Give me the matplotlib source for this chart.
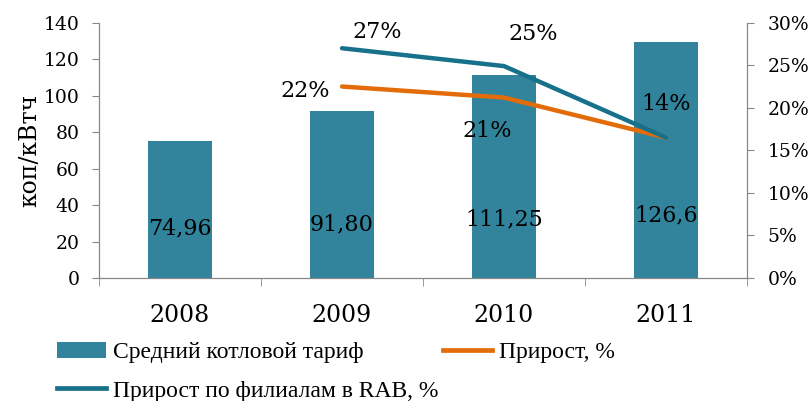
import matplotlib.pyplot as plt
import numpy as np
from matplotlib.patches import Patch
from matplotlib.lines import Line2D

years = ['2008', '2009', '2010', '2011']
tariff = [74.96, 91.80, 111.25, 129.6]
tariff_labels = ['74,96', '91,80', '111,25', '126,6']
growth = [None, 22.5, 21.2, 16.5]
growth_labels = ['', '22%', '21%', '14%']
growth_rab = [None, 27.0, 24.9, 16.5]
growth_rab_labels = ['', '27%', '25%', '']

bar_color = '#31849B'
orange = '#E36C09'
teal = '#17718A'
grey = '#868686'
serif = 'DejaVu Serif'
legend_font = 'Liberation Serif'

fig = plt.figure(figsize=(8.09, 4.01), dpi=100)
ax = fig.add_axes([0.1224, 0.3067, 0.801, 0.6367])
ax2 = ax.twinx()

x = np.arange(len(years))
ax.bar(x, tariff, width=0.4, color=bar_color, zorder=2)
for xi, v, lab in zip(x, tariff, tariff_labels):
    ax.text(xi, 27 + (xi * 2.5), lab, ha='center', va='center',
            fontsize=16, family=serif, zorder=5)

ax.set_xlim(-0.5, 3.5)
ax.set_ylim(0, 140)
ax.set_yticks(range(0, 141, 20))
ax.set_xticks(x)
ax.set_xticklabels(years, family=serif, fontsize=17)
ax.set_xticks(np.arange(-0.5, 3.6, 1), minor=True)
ax.tick_params(axis='x', which='major', length=0, pad=19)
ax.tick_params(axis='x', which='minor', length=6, color=grey, direction='out')
ax.tick_params(axis='y', length=5, color=grey, labelsize=13.5, pad=9)
for lab in ax.get_yticklabels():
    lab.set_family(serif)
ax.set_ylabel('коп/кВтч', family=serif, fontsize=17, labelpad=2)

# percent lines on the right axis
xs = x[1:]
ax2.plot(xs, growth[1:], color=orange, lw=3.2, solid_capstyle='round', zorder=3)
ax2.plot(xs, growth_rab[1:], color=teal, lw=3.2, solid_capstyle='round', zorder=4)
ax2.set_ylim(0, 30)
ax2.set_yticks(range(0, 31, 5))
ax2.set_yticklabels([f'{v}%' for v in range(0, 31, 5)], family=serif, fontsize=13.5)
ax2.tick_params(axis='y', length=5, color=grey, pad=10)

# point labels (offsets in points)
ax2.annotate(growth_labels[1], (xs[0], growth[1]), xytext=(-9, -3), textcoords='offset points',
             ha='right', va='center', fontsize=16, family=serif)
ax2.annotate(growth_labels[2], (xs[1], growth[2]), xytext=(-12, -24), textcoords='offset points',
             ha='center', va='center', fontsize=16, family=serif)
ax2.annotate(growth_labels[3], (xs[2], growth[3]), xytext=(0, 24), textcoords='offset points',
             ha='center', va='center', fontsize=16, family=serif)
ax2.annotate(growth_rab_labels[1], (xs[0], growth_rab[1]), xytext=(25, 12), textcoords='offset points',
             ha='center', va='center', fontsize=16, family=serif)
ax2.annotate(growth_rab_labels[2], (xs[1], growth_rab[2]), xytext=(21, 23), textcoords='offset points',
             ha='center', va='center', fontsize=16, family=serif)

for a in (ax, ax2):
    a.spines['top'].set_visible(False)
    for s in ('left', 'right', 'bottom'):
        a.spines[s].set_color(grey)

leg_kw = dict(frameon=False, prop={'family': legend_font, 'size': 17},
              handlelength=2.1, handletextpad=0.3, labelspacing=0.72,
              loc='upper left', borderaxespad=0, borderpad=0)
h1 = [Patch(facecolor=bar_color, edgecolor='none'),
      Line2D([0], [0], color=teal, lw=3.4)]
fig.legend(h1, ['Средний котловой тариф', 'Прирост по филиалам в RAB, %'],
           bbox_to_anchor=(0.07, 0.148), **leg_kw)
h2 = [Line2D([0], [0], color=orange, lw=3.4)]
fig.legend(h2, ['Прирост, %'], bbox_to_anchor=(0.547, 0.148), **leg_kw)

fig.savefig('out.png', dpi=100)
